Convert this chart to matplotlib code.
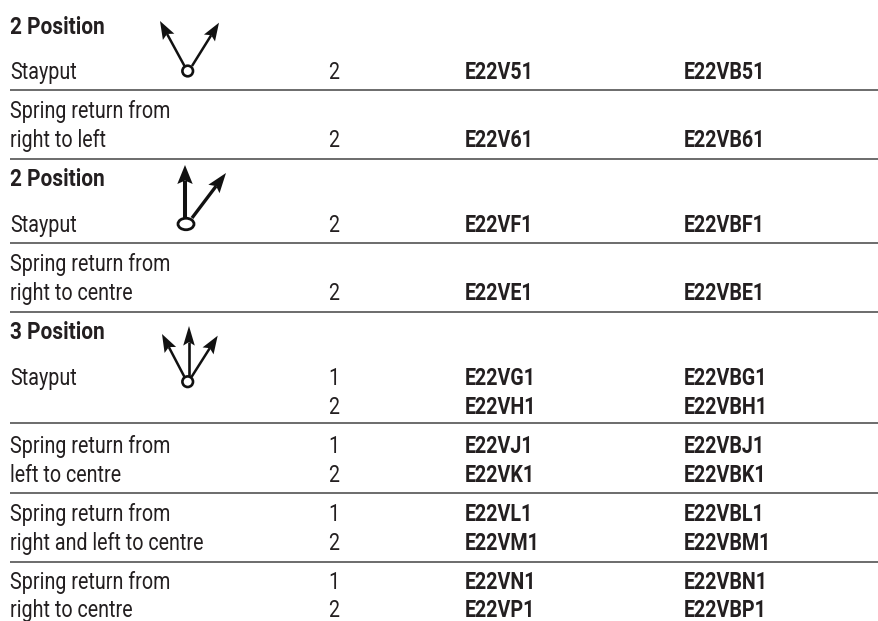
import os
import tempfile
import matplotlib
matplotlib.use("Agg")
import matplotlib.pyplot as plt
from matplotlib import font_manager as fm
from matplotlib.font_manager import FontProperties
from matplotlib.patches import Circle, Ellipse, Polygon
from fontTools.ttLib import TTFont
import numpy as np

# ---- table content ----
headers = ["2 Position", "2 Position", "3 Position"]
descriptions = ["Stayput", "Spring return from", "right to left", "Stayput", "Spring return from",
                "right to centre", "Stayput", "Spring return from", "left to centre",
                "Spring return from", "right and left to centre", "Spring return from", "right to centre"]
contacts = ["2", "2", "2", "2", "1", "2", "1", "2", "1", "2", "1", "2"]
codes_a = ["E22V51", "E22V61", "E22VF1", "E22VE1", "E22VG1", "E22VH1", "E22VJ1", "E22VK1",
           "E22VL1", "E22VM1", "E22VN1", "E22VP1"]
codes_b = ["E22VB51", "E22VB61", "E22VBF1", "E22VBE1", "E22VBG1", "E22VBH1", "E22VBJ1", "E22VBK1",
           "E22VBL1", "E22VBM1", "E22VBN1", "E22VBP1"]

# ---- layout (pixel space, text y = baseline) ----
W, H = 879, 621
header_y = [33.5, 185.7, 339]
desc_y = [79, 118, 147.3, 231.7, 270.7, 300, 385, 452.7, 482.3, 520.7, 550, 589, 616.8]
row_y = [79, 147.3, 231.7, 300, 385, 414.3, 452.7, 482.3, 520.7, 550, 589, 616.8]
rule_y = [89.7, 158.5, 242.7, 312.3, 422.7, 492.7, 561.5]
X_LEFT, X_NUM, X_A, X_B, X_RIGHT = 10, 328, 465, 684, 879
TEXT = "#231f20"
SIZE = 16.5


def condensed(weight, scale):
    """Narrow copy of an installed face, since no condensed family is installed."""
    src = fm.findfont(FontProperties(family="Roboto", weight=weight))
    font = TTFont(src)
    glyf = font["glyf"]
    hmtx = font["hmtx"]
    for name in glyf.keys():
        g = glyf[name]
        if g.isComposite():
            for c in g.components:
                c.x = int(round(c.x * scale))
        elif g.numberOfContours > 0:
            g.coordinates.scale((scale, 1))
        if g.numberOfContours != 0:
            g.removeHinting()
            g.recalcBounds(glyf)
        adv, lsb = hmtx[name]
        hmtx[name] = (int(round(adv * scale)), int(round(lsb * scale)))
    for tag in ("fpgm", "prep", "cvt ", "hdmx", "VDMX", "LTSH", "kern", "GPOS", "GSUB", "GDEF"):
        if tag in font:
            del font[tag]
    path = os.path.join(tempfile.mkdtemp(), f"narrow_{weight}_{int(scale * 1000)}.ttf")
    font.save(path)
    return FontProperties(fname=path, size=SIZE)


try:
    fp_reg = condensed("regular", 0.86)
    fp_bold = condensed("bold", 0.86)
    fp_head = condensed("bold", 0.91)
except Exception:
    fp_reg = FontProperties(family="Roboto", size=13.2)
    fp_bold = FontProperties(family="Roboto", weight="bold", size=13.2)
    fp_head = fp_bold

fig = plt.figure(figsize=(W / 100, H / 100), dpi=100, facecolor="white")
ax = fig.add_axes([0, 0, 1, 1])
ax.set_xlim(0, W)
ax.set_ylim(H, 0)
ax.axis("off")

for s, y in zip(headers, header_y):
    ax.text(X_LEFT, y, s, fontproperties=fp_head, color=TEXT, va="baseline")
for s, y in zip(descriptions, desc_y):
    ax.text(X_LEFT, y, s, fontproperties=fp_reg, color=TEXT, va="baseline")
for n, a, b, y in zip(contacts, codes_a, codes_b, row_y):
    ax.text(X_NUM, y, n, fontproperties=fp_reg, color=TEXT, va="baseline")
    ax.text(X_A, y, a, fontproperties=fp_bold, color=TEXT, va="baseline")
    ax.text(X_B, y, b, fontproperties=fp_bold, color=TEXT, va="baseline")
for y in rule_y:
    ax.plot([X_LEFT, X_RIGHT], [y, y], color="#444444", lw=1.1, solid_capstyle="butt")


def arrow(x0, y0, x1, y1, lw=1.8, hl=18, hw=6.5):
    d = np.array([x1 - x0, y1 - y0], float)
    u = d / np.hypot(*d)
    n = np.array([-u[1], u[0]])
    tip = np.array([x1, y1], float)
    base = tip - u * hl
    notch = tip - u * (hl * 0.82)
    ax.plot([x0, notch[0]], [y0, notch[1]], color="#111111", lw=lw, solid_capstyle="butt", zorder=3)
    ax.add_patch(Polygon([tip, base + n * hw, notch, base - n * hw], closed=True, fc="#111111", ec="none", zorder=3))


# icon 1
arrow(184.5, 66, 160, 21)
arrow(192, 66, 219, 22.7)
ax.add_patch(Circle((187.7, 71), 5.3, fc="white", ec="#111111", lw=1.9, zorder=4))
# icon 2
arrow(185, 218, 185, 165, lw=2.9, hw=7.7, hl=19)
arrow(192, 218, 226, 173, lw=2.4, hw=7, hl=20)
ax.add_patch(Ellipse((186, 224), 16, 11.5, fc="white", ec="#111111", lw=2.0, zorder=4))
# icon 3
arrow(184.5, 377, 162, 334)
arrow(189, 377, 189, 326, lw=1.9, hw=5.8, hl=19.6)
arrow(191.5, 377, 217.7, 335.7)
ax.add_patch(Circle((187.7, 381.7), 5.3, fc="white", ec="#111111", lw=1.9, zorder=4))

fig.savefig("out.png", dpi=100)
